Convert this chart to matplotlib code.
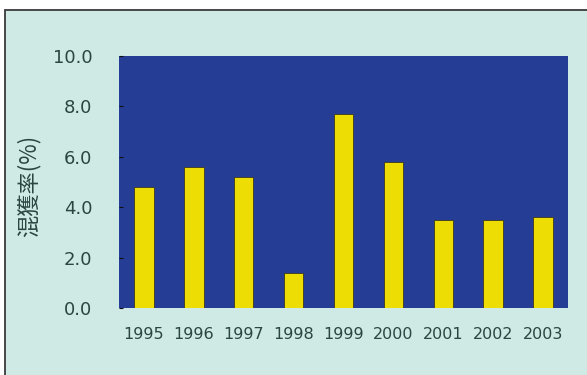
import numpy as np
import matplotlib.pyplot as plt
from matplotlib.patches import Rectangle

years = ['1995', '1996', '1997', '1998', '1999', '2000', '2001', '2002', '2003']
rate = [4.8, 5.6, 5.2, 1.4, 7.7, 5.8, 3.5, 3.5, 3.6]
yticks = [0, 2, 4, 6, 8, 10]

bg = '#cfe9e4'
navy = '#263d95'
yellow = '#eedc05'
txt = '#2a4640'

plt.rcParams['font.family'] = ['DejaVu Sans', 'Noto Sans CJK JP']

fig = plt.figure(figsize=(5.87, 3.75), dpi=100)
fig.patch.set_facecolor('white')
# panel frame (cut off at right and bottom like the scan)
fig.patches.append(Rectangle((5/587, -0.1), 1.2, 1 - 10/375 + 0.1, transform=fig.transFigure,
                             facecolor=bg, edgecolor='#3a3a3a', lw=1.3, zorder=-5))

ax = fig.add_axes([119/587, 1 - 308/375, 449/587, 252/375])
ax.set_zorder(2)
ax.set_facecolor(navy)
x = np.arange(len(years))
ax.bar(x, rate, width=0.39, color=yellow, edgecolor='#3a3a20', linewidth=0.6, zorder=2)

ax.set_xlim(-0.5, len(years) - 0.5)
ax.set_ylim(0, 10)
ax.set_yticks(yticks)
ax.set_yticklabels(['%.1f' % v for v in yticks], fontsize=13, color=txt)
ax.set_xticks(x)
ax.set_xticklabels(years, fontsize=11.5, color=txt)
ax.tick_params(axis='y', direction='in', length=3, color='#111111', pad=19)
ax.tick_params(axis='x', length=0, pad=14)
for s in ax.spines.values():
    s.set_visible(False)

fig.text(29/587, 1 - 186/375, '混獲率(%)', rotation=90, ha='center', va='center',
         fontsize=16, color=txt, family=['Noto Sans CJK JP', 'DejaVu Sans'], zorder=3)

fig.savefig('out.png', dpi=100)
